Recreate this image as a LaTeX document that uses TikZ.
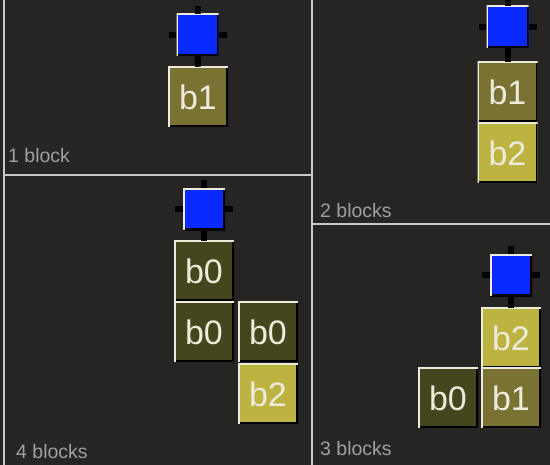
\documentclass[tikz,border=0pt]{standalone}
\usepackage{fontspec}
\setmainfont{Liberation Sans}
\definecolor{bg}{HTML}{262524}
\definecolor{frame}{HTML}{C8C8C8}
\definecolor{hilite}{HTML}{ECEBDC}
\definecolor{lbl}{HTML}{A0A0A0}
\definecolor{qblue}{HTML}{0A2BFF}
\definecolor{czero}{HTML}{46461E}
\definecolor{cone}{HTML}{7A7232}
\definecolor{ctwo}{HTML}{BDB340}
\begin{document}
\begin{tikzpicture}[x=1pt,y=-1pt,
  bevel/.style={path picture={
    \draw[line width=4pt,black]
      (path picture bounding box.south west) -- (path picture bounding box.south east)
      -- (path picture bounding box.north east);
    \draw[line width=3pt,hilite]
      (path picture bounding box.south west) -- (path picture bounding box.north west)
      -- (path picture bounding box.north east);}},
  blk/.style={rectangle,inner sep=0pt,minimum size=60pt,bevel,text=hilite,
    font=\fontsize{34}{34}\selectfont},
  bzero/.style={blk,fill=czero},
  bone/.style={blk,fill=cone},
  btwo/.style={blk,fill=ctwo},
  sq/.style={rectangle,inner sep=0pt,minimum size=42pt,fill=qblue,bevel},
  stub/.style={line width=6pt,black},
  paneltext/.style={anchor=base west,inner sep=0pt,text=lbl,
    font=\fontsize{19.5}{19.5}\selectfont},
  divider/.style={line width=2pt,frame}]

% background and panel frames
\fill[bg] (0,0) rectangle (550,465);
\useasboundingbox (0,0) rectangle (550,465);
\draw[divider] (4,0) -- (4,465);
\draw[divider] (312,0) -- (312,465);
\draw[divider] (4,175) -- (312,175);
\draw[divider] (312,224) -- (550,224);

% stub ends on the free sides of each blue square
\coordinate (q1n) at (197.5,6);   \coordinate (q1w) at (168.5,35);  \coordinate (q1e) at (226.5,35);
\coordinate (q2n) at (507.5,-3);  \coordinate (q2w) at (478.5,27);  \coordinate (q2e) at (536.5,27);
\coordinate (q4n) at (204,180);   \coordinate (q4w) at (175,209.5); \coordinate (q4e) at (233,209.5);
\coordinate (q3n) at (511,246);   \coordinate (q3w) at (482,275.5); \coordinate (q3e) at (540,275.5);

% panel: 1 block
\node[sq] (q1) at (197.5,35) {};
\node[bone] (p1b1) at (198,97) {b1};
\node[paneltext] (t1) at (8,163) {1 block};

% panel: 2 blocks
\node[sq] (q2) at (507.5,27) {};
\node[bone] (p2b1) at (507.5,92) {b1};
\node[btwo] (p2b2) at (507.5,153) {b2};
\node[paneltext] (t2) at (320,218) {2 blocks};

% panel: 4 blocks
\node[sq] (q4) at (204,209.5) {};
\node[bzero] (p4a) at (204,271) {b0};
\node[bzero] (p4b) at (204,332) {b0};
\node[bzero] (p4c) at (268,332) {b0};
\node[btwo] (p4d) at (268,394) {b2};
\node[paneltext] (t4) at (16,459) {4 blocks};

% panel: 3 blocks
\node[sq] (q3) at (511,275.5) {};
\node[btwo] (p3b2) at (511,338) {b2};
\node[bzero] (p3b0) at (448,398) {b0};
\node[bone] (p3b1) at (511,398) {b1};
\node[paneltext] (t3) at (320,456) {3 blocks};

% connector stubs
\foreach \q/\b in {q1/p1b1,q2/p2b1,q4/p4a,q3/p3b2}{
  \draw[stub] (\q.north) -- (\q n);
  \draw[stub] (\q.west) -- (\q w);
  \draw[stub] (\q.east) -- (\q e);
  \draw[stub] (\q.south) -- (\b.north);
}
\end{tikzpicture}
\end{document}
